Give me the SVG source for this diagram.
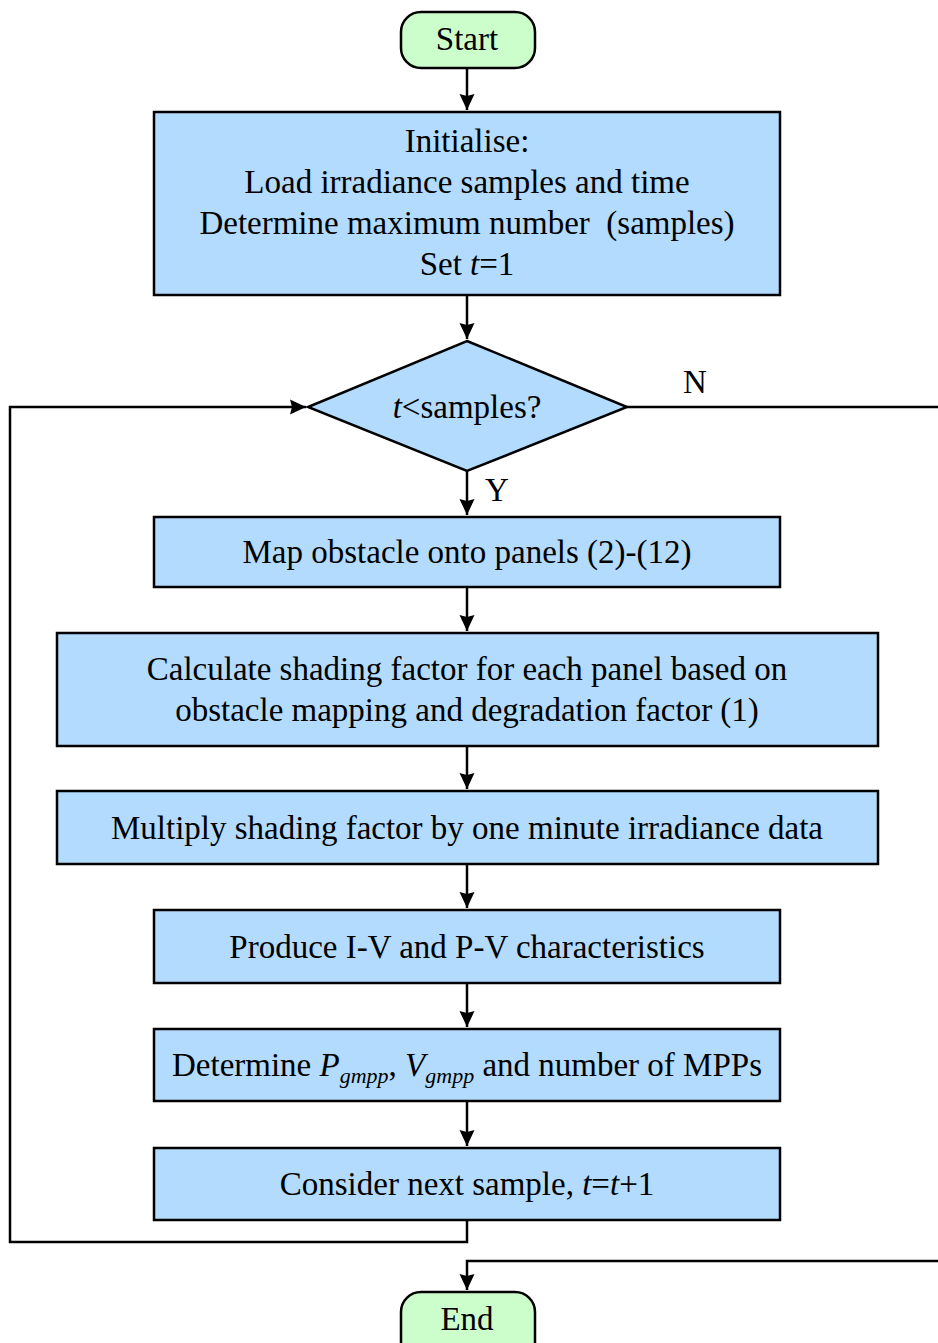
<svg xmlns="http://www.w3.org/2000/svg" width="938" height="1343" viewBox="0 0 938 1343">
<style>
.box{fill:#b3dbfd;stroke:#000;stroke-width:2.5}
.term{fill:#ccfecc;stroke:#000;stroke-width:2.5}
.t{font-family:"Liberation Serif","Times New Roman",serif;font-size:33px;fill:#000;text-anchor:middle}
.i{font-style:italic}
.sub{font-size:22px;font-style:italic}
.c{fill:none;stroke:#000;stroke-width:2.5}
</style>
<defs>
<marker id="a" viewBox="0 0 16 18" refX="16" refY="9" markerWidth="16" markerHeight="18" markerUnits="userSpaceOnUse" orient="auto">
<path d="M0,1.5 L16,9 L0,16.5 L2,9 Z" fill="#000"/>
</marker>
</defs>
<g id="connectors">
<path class="c" d="M467,68 V110" marker-end="url(#a)"/>
<path class="c" d="M467,295 V339" marker-end="url(#a)"/>
<path class="c" d="M467,471 V515" marker-end="url(#a)"/>
<path class="c" d="M467,587 V631" marker-end="url(#a)"/>
<path class="c" d="M467,746 V789" marker-end="url(#a)"/>
<path class="c" d="M467,864 V908" marker-end="url(#a)"/>
<path class="c" d="M467,983 V1027" marker-end="url(#a)"/>
<path class="c" d="M467,1101 V1146" marker-end="url(#a)"/>
<path class="c" d="M467,1220 V1242 H10 V407 H306" marker-end="url(#a)"/>
<path class="c" d="M627,407 H938"/>
<path class="c" d="M938,1261 H467 V1290" marker-end="url(#a)"/>
<text class="t" x="695" y="393">N</text>
<text class="t" x="497" y="501">Y</text>
</g>
<g id="start">
<rect class="term" x="401" y="12" width="134" height="56" rx="20"/>
<text class="t" x="467" y="50">Start</text>
</g>
<g id="init">
<rect class="box" x="154" y="112" width="626" height="183"/>
<text class="t" x="467" y="152">Initialise:</text>
<text class="t" x="467" y="193">Load irradiance samples and time</text>
<text class="t" x="467" y="234" style="white-space:pre">Determine maximum number  (samples)</text>
<text class="t" x="467" y="275">Set <tspan class="i">t</tspan>=1</text>
</g>
<g id="decision">
<polygon class="box" points="467,341 627,407 467,471 308,407"/>
<text class="t" x="467" y="418"><tspan class="i">t</tspan>&lt;samples?</text>
</g>
<g id="map">
<rect class="box" x="154" y="517" width="626" height="70"/>
<text class="t" x="467" y="563">Map obstacle onto panels (2)-(12)</text>
</g>
<g id="calc">
<rect class="box" x="57" y="633" width="821" height="113"/>
<text class="t" x="467" y="680">Calculate shading factor for each panel based on</text>
<text class="t" x="467" y="721">obstacle mapping and degradation factor (1)</text>
</g>
<g id="multiply">
<rect class="box" x="57" y="791" width="821" height="73"/>
<text class="t" x="467" y="839">Multiply shading factor by one minute irradiance data</text>
</g>
<g id="produce">
<rect class="box" x="154" y="910" width="626" height="73"/>
<text class="t" x="467" y="958">Produce I-V and P-V characteristics</text>
</g>
<g id="determine">
<rect class="box" x="154" y="1029" width="626" height="72"/>
<text class="t" x="467" y="1076">Determine <tspan class="i">P</tspan><tspan class="sub" dy="7">gmpp</tspan><tspan dy="-7">, </tspan><tspan class="i">V</tspan><tspan class="sub" dy="7">gmpp</tspan><tspan dy="-7"> and number of MPPs</tspan></text>
</g>
<g id="next">
<rect class="box" x="154" y="1148" width="626" height="72"/>
<text class="t" x="467" y="1195">Consider next sample, <tspan class="i">t</tspan>=<tspan class="i">t</tspan>+1</text>
</g>
<g id="end">
<rect class="term" x="401" y="1292" width="134" height="70" rx="20"/>
<text class="t" x="467" y="1330">End</text>
</g>
</svg>
